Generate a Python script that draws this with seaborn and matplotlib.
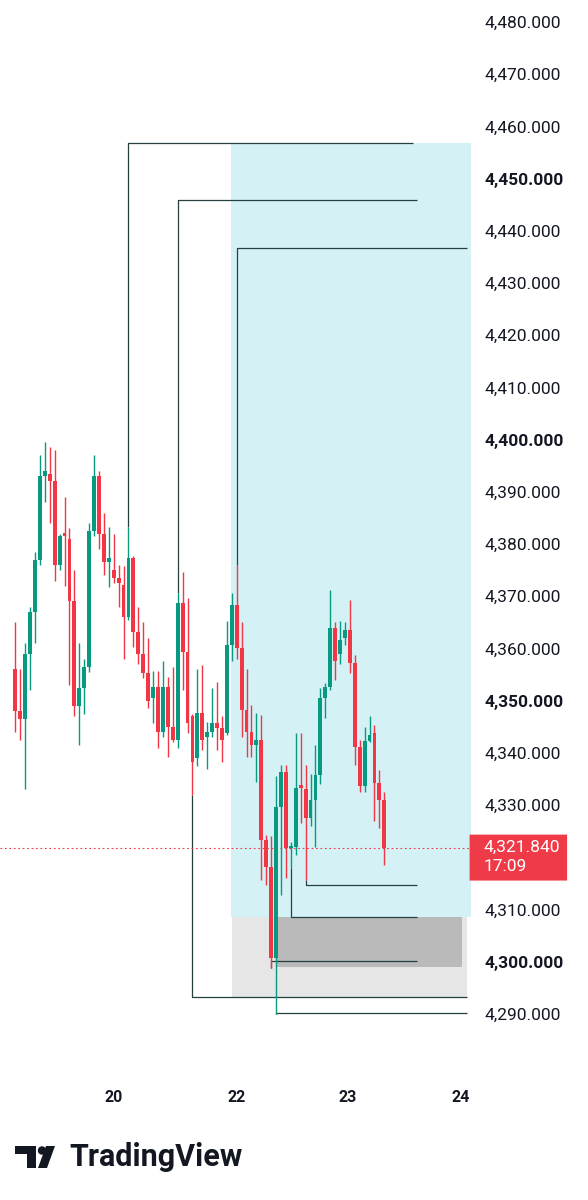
import matplotlib.pyplot as plt
import matplotlib.patches as mpatches
import matplotlib.transforms as mtransforms
import seaborn as sns
import pandas as pd
import numpy as np

# hourly candles (oldest first)
opens = [4356, 4348, 4346.5, 4359, 4367, 4377, 4393, 4393.5, 4392, 4376,
         4381.6, 4381, 4369, 4349, 4352.5, 4356.5, 4382.5, 4393, 4382, 4376.6,
         4375, 4373.4, 4372.2, 4366, 4377.3, 4363.2, 4359, 4355.3, 4350.5, 4352.7,
         4344, 4352.7, 4345, 4342.5, 4368.7, 4359.4, 4347, 4339, 4347.6, 4343,
         4344, 4345.7, 4344.7, 4343.8, 4360.7, 4368.3, 4360, 4348.2, 4344, 4341.5,
         4342.5, 4323.3, 4318.2, 4300.7, 4329.7, 4336.4, 4321.7, 4322, 4333.3, 4333,
         4327.5, 4331, 4335.8, 4350.5, 4352.7, 4364, 4359, 4362, 4363.6, 4357.2,
         4341.2, 4333.6, 4342.2, 4343.8, 4334.2, 4331]
highs = [4365, 4356, 4361, 4368, 4378.5, 4397, 4399.5, 4398.5, 4398, 4382,
         4389, 4383, 4375, 4361, 4358, 4384, 4397, 4394, 4386, 4383.3,
         4382, 4376, 4375.7, 4383.3, 4377.8, 4368, 4365, 4362, 4355.6, 4355.6,
         4357.5, 4354.6, 4356.5, 4370.6, 4374.7, 4369.6, 4347.5, 4356, 4356.8, 4346,
         4352.4, 4353.6, 4347, 4365.2, 4370.6, 4376, 4365, 4356, 4349.2, 4347.6,
         4347.3, 4324.3, 4324, 4335.5, 4337.7, 4337.7, 4323, 4343.8, 4343.8, 4337.7,
         4336, 4341.5, 4352.4, 4353.3, 4371.2, 4365, 4365.2, 4365, 4369.3, 4358.8,
         4342.5, 4345, 4347, 4345.4, 4336.7, 4332.6]
lows = [4344, 4342.5, 4333, 4352, 4361, 4376, 4388, 4384, 4373, 4375,
        4372, 4353, 4347, 4341.5, 4347.5, 4355.5, 4381.5, 4379, 4374, 4371.8,
        4372.5, 4368, 4358, 4365.5, 4360.3, 4357, 4354.3, 4348.6, 4345.7, 4341,
        4343, 4339.3, 4342, 4341, 4352, 4343.8, 4332, 4337.4, 4340.6, 4337,
        4343, 4340.6, 4338.3, 4343.5, 4357.5, 4358, 4343, 4339.3, 4339.3, 4334.5,
        4315.7, 4314.6, 4298.8, 4290, 4312.7, 4316, 4318, 4320.4, 4326.5, 4315.7,
        4326, 4322, 4334, 4346.6, 4352, 4354, 4357.1, 4360.7, 4355.3, 4337.7,
        4332.6, 4332.6, 4342, 4327, 4325.6, 4318.5]
closes = [4348, 4346.5, 4359, 4367, 4377, 4393, 4394, 4392, 4376, 4381.5,
          4381.2, 4369, 4349, 4352.5, 4356.5, 4382.5, 4393, 4382, 4376.6, 4377.3,
          4373.4, 4372.5, 4366, 4377.3, 4363.2, 4359, 4355.3, 4350, 4352.7, 4344,
          4352.7, 4345, 4342.5, 4368.7, 4359.4, 4345.7, 4338.3, 4347.6, 4342.5, 4344,
          4345.7, 4344.7, 4342.5, 4360.7, 4368.3, 4360, 4348.2, 4344, 4341.5, 4342.5,
          4323.3, 4318.2, 4300.7, 4329.7, 4336.4, 4321.7, 4322.1, 4333.3, 4333, 4327.5,
          4331, 4335.8, 4350.5, 4352.7, 4364, 4357.5, 4361.6, 4363.6, 4357.2, 4341.2,
          4333.6, 4342.2, 4343.4, 4334.2, 4331, 4321.84]

day_labels = ["20", "22", "23", "24"]
day_pos = [19.9, 44.9, 67.6, 90.6]

price_ticks = [4290, 4300, 4310, 4330, 4340, 4350, 4360, 4370, 4380, 4390,
               4400, 4410, 4420, 4430, 4440, 4450, 4460, 4470, 4480]
bold_ticks = [4300, 4350, 4400, 4450]

last_price = 4321.84
countdown = "17:09"

# drawn zones: (x from, x to, price low, price high)
target_zone = (43.8, 92.6, 4308.6, 4456.8)
grey_zone = (44.0, 91.8, 4293.3, 4308.6)
dark_zone = (53.0, 90.8, 4299.0, 4308.6)

# level lines: (candle, price at candle, level, end x)
level_lines = [
    (23, 4383.3, 4456.8, 80.8),
    (33, 4370.6, 4445.9, 81.6),
    (45, 4376.0, 4436.7, 91.8),
    (36, 4332.0, 4293.3, 91.8),
    (52, 4298.8, 4300.2, 81.6),
    (53, 4290.0, 4290.2, 91.8),
    (56, 4318.0, 4308.6, 81.6),
    (59, 4315.7, 4314.7, 81.6),
]

GREEN = "#089981"
RED = "#f23645"
LINE = "#263f3f"
TEXT = "#131722"

sns.set_theme(style="white")
plt.rcParams["font.family"] = ["Roboto", "DejaVu Sans"]

df = pd.DataFrame({"o": opens, "h": highs, "l": lows, "c": closes})
df["i"] = np.arange(len(df))
colors = np.where(df["c"] >= df["o"], GREEN, RED)

fig = plt.figure(figsize=(5.88, 12), dpi=100)
ax = fig.add_axes([0, 1 - 1075 / 1200, 471 / 588, 1075 / 1200])
ax.set_facecolor("white")

# zones
x0, x1, y0, y1 = target_zone
ax.add_patch(mpatches.Rectangle((x0, y0), x1 - x0, y1 - y0, color="#d4f2f6", lw=0, zorder=1, clip_on=False))
x0, x1, y0, y1 = grey_zone
ax.add_patch(mpatches.Rectangle((x0, y0), x1 - x0, y1 - y0, color="#e6e6e6", lw=0, zorder=1))
x0, x1, y0, y1 = dark_zone
ax.add_patch(mpatches.Rectangle((x0, y0), x1 - x0, y1 - y0, color="#bababa", lw=0, zorder=1.5))

# level lines
for i, p, lvl, xe in level_lines:
    ax.plot([i, i, xe], [p, lvl, lvl], color=LINE, lw=0.9, zorder=2, solid_capstyle="butt")

# candles
ax.vlines(df["i"], df["l"], df["h"], colors=colors, lw=1.0, zorder=3)
body = (df["c"] - df["o"]).to_numpy()
body = np.where(np.abs(body) < 0.5, 0.5, body)
ax.bar(df["i"], body, bottom=df["o"], width=0.78, color=colors, lw=0, zorder=4)

# current price
ax.axhline(last_price, color=RED, lw=0.8, ls=(0, (1.5, 2.5)), zorder=2)
trans = mtransforms.blended_transform_factory(ax.transAxes, ax.transData)
ax.add_patch(mpatches.FancyBboxPatch((0.997, last_price - 6.3), 0.207, 8.8,
                                     boxstyle="round,pad=0,rounding_size=0.006",
                                     transform=trans, color="#ef3a47", lw=0,
                                     clip_on=False, zorder=5))
ax.text(1.027, last_price, "4,321.840", transform=trans, color="white",
        fontsize=12.5, va="center", ha="left", zorder=6)
ax.text(1.027, last_price - 3.65, countdown, transform=trans, color="white",
        fontsize=12.5, va="center", ha="left", zorder=6)

ax.set_xlim(-3.11, 92.62)
ax.set_ylim(4278.3, 4484.2)
for s in ax.spines.values():
    s.set_visible(False)

ax.yaxis.tick_right()
ax.set_yticks(price_ticks)
ax.set_yticklabels([f"{t:,.3f}" for t in price_ticks])
ax.tick_params(axis="y", length=0, pad=10, labelsize=12.5, labelcolor=TEXT)
for lab, t in zip(ax.get_yticklabels(), price_ticks):
    if t in bold_ticks:
        lab.set_fontweight("bold")

ax.set_xticks(day_pos)
ax.set_xticklabels(day_labels, fontweight="bold")
ax.tick_params(axis="x", length=0, pad=11, labelsize=11.5, labelcolor=TEXT)
ax.grid(False)

# TradingView footer
ov = fig.add_axes([0, 0, 1, 1])
ov.set_xlim(0, 588)
ov.set_ylim(1200, 0)
ov.axis("off")
ov.add_patch(mpatches.Rectangle((15, 1146), 21, 8, color="#131722", lw=0))
ov.add_patch(mpatches.Rectangle((27, 1146), 9, 22, color="#131722", lw=0))
ov.add_patch(mpatches.Circle((42, 1150.5), 4.2, color="#131722", lw=0))
ov.add_patch(mpatches.Polygon([(38, 1168), (47, 1168), (55, 1146), (46, 1146)], color="#131722", lw=0))
ov.text(69, 1157, "TradingView", fontsize=22, fontweight="bold", color="#131722",
        va="center", ha="left")

fig.savefig("out.png", dpi=100, facecolor="white")
